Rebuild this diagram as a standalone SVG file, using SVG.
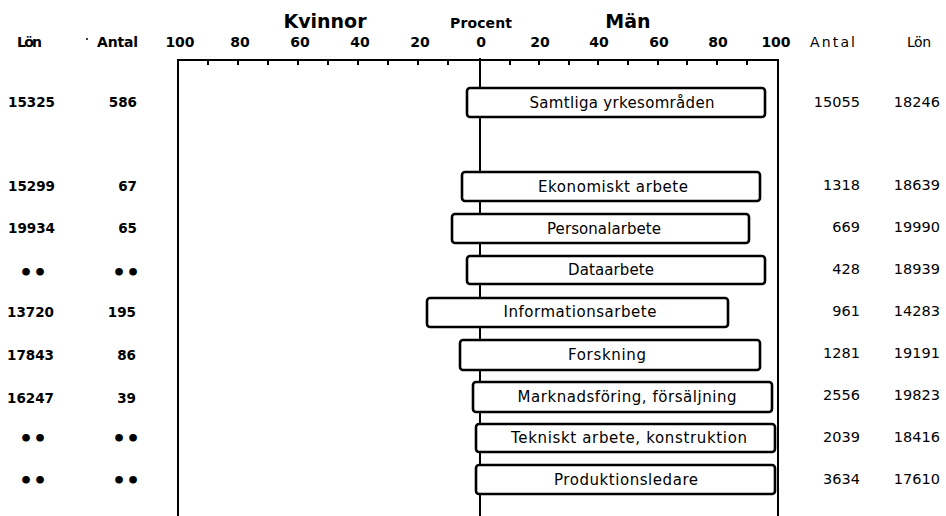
<svg xmlns="http://www.w3.org/2000/svg" width="946" height="516" viewBox="0 0 946 516">
<style>
text{font-family:"DejaVu Sans","Liberation Sans",sans-serif;fill:#000}
.hb{font-weight:bold;font-size:14px}
.hr{font-size:14px}
.title{font-weight:bold;font-size:19px;text-anchor:middle}
.ax{font-weight:bold;font-size:14px;text-anchor:middle}
.lv{font-weight:bold;font-size:13.5px}
.lva{font-weight:bold;font-size:13.5px;text-anchor:end}
.rv{font-size:14.5px;text-anchor:end}
.lab{font-size:15px;text-anchor:middle}
.dots{font-weight:bold;font-size:22px}
.bar{fill:#fff;stroke:#000;stroke-width:2.6}
.axis{fill:none;stroke:#000;stroke-width:2}
.tick{stroke:#000;stroke-width:2}
</style>
<rect width="946" height="516" fill="#fff"/>
<g id="header">
<text class="title" x="325" y="28">Kvinnor</text>
<text class="hb" x="481" y="28" text-anchor="middle" textLength="62" lengthAdjust="spacing">Procent</text>
<text class="title" x="628" y="28">Män</text>
<text class="hb" x="17" y="47" textLength="25" lengthAdjust="spacing">Lön</text>
<circle cx="87" cy="39" r="1" fill="#000"/>
<text class="hb" x="97" y="47" textLength="41" lengthAdjust="spacing">Antal</text>
<text class="hr" x="810" y="47" textLength="45" lengthAdjust="spacing">Antal</text>
<text class="hr" x="907" y="47" textLength="24" lengthAdjust="spacing">Lön</text>
<text class="ax" x="180" y="47">100</text>
<text class="ax" x="240" y="47">80</text>
<text class="ax" x="300" y="47">60</text>
<text class="ax" x="360" y="47">40</text>
<text class="ax" x="420" y="47">20</text>
<text class="ax" x="481" y="47">0</text>
<text class="ax" x="540" y="47">20</text>
<text class="ax" x="599" y="47">40</text>
<text class="ax" x="659" y="47">60</text>
<text class="ax" x="718" y="47">80</text>
<text class="ax" x="776" y="47">100</text>
</g>
<g id="connectors">
<path class="axis" d="M178,516 V60 H778 V516"/>
<path class="axis" d="M480,58 V516" stroke-width="2.6"/>
<path class="tick" d="M208,60v5M238,60v5M268,60v5M298,60v5M328,60v5M358,60v5M388,60v5M418,60v5M448,60v5M510,60v5M539,60v5M569,60v5M598,60v5M628,60v5M658,60v5M687,60v5M717,60v5M747,60v5"/>
</g>
<g id="row-samtliga">
<rect class="bar" x="467" y="88" width="298" height="29" rx="3"/>
<text class="lab" x="622" y="108" textLength="185" lengthAdjust="spacing">Samtliga yrkesområden</text>
<text class="lv" x="8" y="107">15325</text>
<text class="lva" x="137" y="107">586</text>
<text class="rv" x="860" y="107">15055</text>
<text class="rv" x="940" y="107">18246</text>
</g>
<g id="row-ekonomiskt">
<rect class="bar" x="462" y="172" width="298" height="29" rx="3"/>
<text class="lab" x="613" y="192" textLength="150" lengthAdjust="spacing">Ekonomiskt arbete</text>
<text class="lv" x="8" y="191">15299</text>
<text class="lva" x="137" y="191">67</text>
<text class="rv" x="860" y="190">1318</text>
<text class="rv" x="940" y="190">18639</text>
</g>
<g id="row-personal">
<rect class="bar" x="452" y="214" width="297" height="29" rx="3"/>
<text class="lab" x="604" y="234" textLength="114" lengthAdjust="spacing">Personalarbete</text>
<text class="lv" x="8" y="233">19934</text>
<text class="lva" x="137" y="233">65</text>
<text class="rv" x="860" y="232">669</text>
<text class="rv" x="940" y="232">19990</text>
</g>
<g id="row-data">
<rect class="bar" x="467" y="256" width="298" height="28" rx="3"/>
<text class="lab" x="611" y="275" textLength="86" lengthAdjust="spacing">Dataarbete</text>
<text class="dots" x="19" y="280">••</text>
<text class="dots" x="112" y="280">••</text>
<text class="rv" x="860" y="274">428</text>
<text class="rv" x="940" y="274">18939</text>
</g>
<g id="row-information">
<rect class="bar" x="427" y="298" width="301" height="29" rx="3"/>
<text class="lab" x="580" y="317" textLength="153" lengthAdjust="spacing">Informationsarbete</text>
<text class="lv" x="7" y="317">13720</text>
<text class="lva" x="136" y="317">195</text>
<text class="rv" x="860" y="316">961</text>
<text class="rv" x="940" y="316">14283</text>
</g>
<g id="row-forskning">
<rect class="bar" x="460" y="340" width="300" height="30" rx="3"/>
<text class="lab" x="607" y="360" textLength="78" lengthAdjust="spacing">Forskning</text>
<text class="lv" x="7" y="360">17843</text>
<text class="lva" x="136" y="360">86</text>
<text class="rv" x="860" y="358">1281</text>
<text class="rv" x="940" y="358">19191</text>
</g>
<g id="row-marknadsforing">
<rect class="bar" x="473" y="382" width="299" height="30" rx="3"/>
<text class="lab" x="627" y="402" textLength="219" lengthAdjust="spacing">Marknadsföring, försäljning</text>
<text class="lv" x="7" y="403">16247</text>
<text class="lva" x="136" y="403">39</text>
<text class="rv" x="860" y="400">2556</text>
<text class="rv" x="940" y="400">19823</text>
</g>
<g id="row-tekniskt">
<rect class="bar" x="476" y="424" width="299" height="28" rx="3"/>
<text class="lab" x="629" y="443" textLength="236" lengthAdjust="spacing">Tekniskt arbete, konstruktion</text>
<text class="dots" x="19" y="446">••</text>
<text class="dots" x="112" y="446">••</text>
<text class="rv" x="860" y="442">2039</text>
<text class="rv" x="940" y="442">18416</text>
</g>
<g id="row-produktion">
<rect class="bar" x="476" y="465" width="299" height="29" rx="3"/>
<text class="lab" x="626" y="485" textLength="144" lengthAdjust="spacing">Produktionsledare</text>
<text class="dots" x="19" y="488">••</text>
<text class="dots" x="112" y="488">••</text>
<text class="rv" x="860" y="484">3634</text>
<text class="rv" x="940" y="484">17610</text>
</g>
</svg>
